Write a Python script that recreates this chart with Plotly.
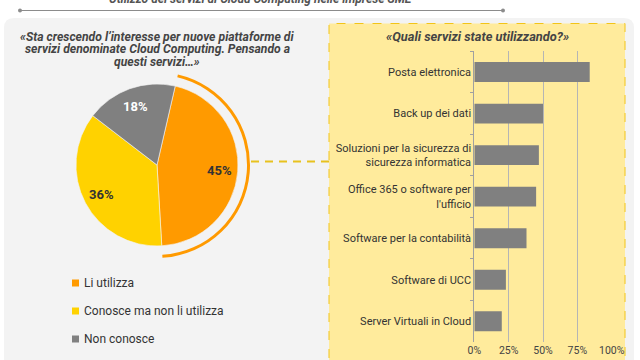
import math
import plotly.graph_objects as go

W, H = 640, 360

# ---------------- data ----------------
page_title = "Utilizzo dei servizi di Cloud Computing nelle imprese SME"
pie_question = ["«Sta crescendo l’interesse per nuove piattaforme di",
                "servizi denominate Cloud Computing. Pensando a",
                "questi servizi…»"]
pie_labels = ["Li utilizza", "Conosce ma non li utilizza", "Non conosce"]
pie_values = [45, 36, 18]
pie_colors = ["#FF9A00", "#FFD200", "#808080"]
pie_text_colors = ["#333333", "#333333", "#FFFFFF"]

bar_title = "«Quali servizi state utilizzando?»"
bar_categories = ["Posta elettronica",
                  "Back up dei dati",
                  "Soluzioni per la sicurezza di<br>sicurezza informatica",
                  "Office 365 o software per<br>l'ufficio",
                  "Software per la contabilità",
                  "Software di UCC",
                  "Server Virtuali in Cloud"]
bar_values = [84, 50, 47, 45, 38, 23, 20]
x_tickvals = [0, 25, 50, 75, 100]
x_ticktext = ["0%", "25%", "50%", "75%", "100%"]

FONT = "Roboto"
TXT = "#444444"
ROT = 13  # degrees, first slice start (clockwise from 12 o'clock)


def px(x):
    return x / W


def py(y):
    return 1 - y / H


fig = go.Figure()

# Pie
pie_cx, pie_cy, pie_r = 157, 165, 81
fig.add_trace(go.Pie(
    labels=pie_labels, values=pie_values, sort=False, direction="clockwise",
    rotation=ROT,
    marker=dict(colors=pie_colors, line=dict(color="#F4F4F4", width=0.6)),
    textinfo="none",
    domain=dict(x=[px(pie_cx - pie_r), px(pie_cx + pie_r)],
                y=[py(pie_cy + pie_r), py(pie_cy - pie_r)]),
    showlegend=False, hoverinfo="label+percent",
))

# Highlight arc around first slice (thin ring)
ring_r = 93
fig.add_trace(go.Pie(
    labels=pie_labels, values=pie_values, sort=False, direction="clockwise",
    rotation=ROT, hole=0.968,
    marker=dict(colors=[pie_colors[0], "rgba(0,0,0,0)", "rgba(0,0,0,0)"],
                line=dict(width=0)),
    textinfo="none", hoverinfo="skip",
    domain=dict(x=[px(pie_cx - ring_r), px(pie_cx + ring_r)],
                y=[py(pie_cy + ring_r), py(pie_cy - ring_r)]),
    showlegend=False,
))

# Bars
fig.add_trace(go.Bar(
    x=bar_values, y=bar_categories, orientation="h",
    marker=dict(color="#808080", line=dict(width=0)),
    showlegend=False, hovertemplate="%{x}%<extra></extra>",
))

fig.update_layout(
    width=W, height=H, margin=dict(l=0, r=0, t=0, b=0, autoexpand=False),
    paper_bgcolor="white", plot_bgcolor="rgba(0,0,0,0)",
    bargap=0.52,
    xaxis=dict(domain=[px(474.3), px(611.7)], range=[0, 100], automargin=False,
               tickvals=x_tickvals, ticktext=x_ticktext,
               showgrid=True, gridcolor="#B5B5B5", gridwidth=1,
               zeroline=False, showline=False, ticks="",
               tickfont=dict(family=FONT, size=10.5, color=TXT), ticklabelstandoff=0),
    yaxis=dict(domain=[py(342), py(51.3)], autorange="reversed", automargin=False,
               showline=True, linecolor="#A0A0A0", linewidth=1,
               ticks="outside", ticklen=3, tickcolor="#A0A0A0", tickson="boundaries",
               showgrid=False, zeroline=False,
               tickfont=dict(family=FONT, size=11, color="#333333")),
)

shapes = []
# grey rounded panel
x0, x1, y0, y1, r = px(4), px(634), py(18), py(380), 10
rx, ry = r / W, r / H
shapes.append(dict(
    type="path", xref="paper", yref="paper",
    path=(f"M {x0+rx},{y0} L {x1-rx},{y0} Q {x1},{y0} {x1},{y0-ry} "
          f"L {x1},{y1} L {x0},{y1} L {x0},{y0-ry} Q {x0},{y0} {x0+rx},{y0} Z"),
    fillcolor="#F3F3F3", line=dict(width=0), layer="below"))
# yellow box
shapes.append(dict(type="rect", xref="paper", yref="paper",
                   x0=px(329), x1=px(625), y0=py(366), y1=py(23.5),
                   fillcolor="#FFEB9C", line=dict(color="#F2C418", width=1, dash="dash"),
                   layer="below"))
# top rule with end dots
shapes.append(dict(type="line", xref="paper", yref="paper",
                   x0=px(20), x1=px(503), y0=py(10.5), y1=py(10.5),
                   line=dict(color="#8C8C8C", width=1)))
for cx in (20, 503):
    shapes.append(dict(type="circle", xref="paper", yref="paper",
                       x0=px(cx - 2), x1=px(cx + 2), y0=py(10.5 + 2), y1=py(10.5 - 2),
                       fillcolor="#8C8C8C", line=dict(width=0)))
# dashed connector
shapes.append(dict(type="line", xref="paper", yref="paper",
                   x0=px(251), x1=px(329), y0=py(161.5), y1=py(161.5),
                   line=dict(color="#E8C21E", width=2, dash="8px,6px")))
# legend squares
leg_y = [283, 311, 339]
for c, yy in zip(pie_colors, leg_y):
    shapes.append(dict(type="rect", xref="paper", yref="paper",
                       x0=px(72), x1=px(79), y0=py(yy + 3.5), y1=py(yy - 3.5),
                       fillcolor=c, line=dict(width=0)))
fig.update_layout(shapes=shapes)

ann = []
ann.append(dict(text=f"<b><i>{page_title}</i></b>", xref="paper", yref="paper",
                x=px(261), y=py(-1), xanchor="center", yanchor="middle",
                showarrow=False, font=dict(family=FONT, size=12, color="#555555")))
for i, line in enumerate(pie_question):
    ann.append(dict(text=f"<b><i>{line}</i></b>", xref="paper", yref="paper",
                    x=px(157), y=py(37 + i * 12.5), xanchor="center", yanchor="middle",
                    showarrow=False, font=dict(family=FONT, size=12.2, color=TXT)))
ann.append(dict(text=f"<b><i>{bar_title}</i></b>", xref="paper", yref="paper",
                x=px(477), y=py(37), xanchor="center", yanchor="middle",
                showarrow=False, font=dict(family=FONT, size=12.8, color=TXT)))
for lab, yy in zip(pie_labels, leg_y):
    ann.append(dict(text=lab, xref="paper", yref="paper",
                    x=px(82), y=py(yy), xanchor="left", yanchor="middle",
                    showarrow=False, font=dict(family=FONT, size=12, color="#333333")))

# pie percentage labels, placed along each slice's mid-angle
total = sum(pie_values)
start = ROT
for v, tc in zip(pie_values, pie_text_colors):
    span = 360 * v / total
    mid = math.radians(start + span / 2)
    rr = 0.77 * pie_r
    lx = pie_cx + rr * math.sin(mid)
    ly = pie_cy - rr * math.cos(mid)
    ann.append(dict(text=f"{round(100 * v / total)}%", xref="paper", yref="paper",
                    x=px(lx), y=py(ly), xanchor="center", yanchor="middle",
                    showarrow=False, font=dict(family=FONT, size=13, color=tc, weight="bold")))
    start += span
fig.update_layout(annotations=ann)

fig.write_html("out.html", config={"displayModeBar": False},
               post_script="document.body.style.margin='0px';")
